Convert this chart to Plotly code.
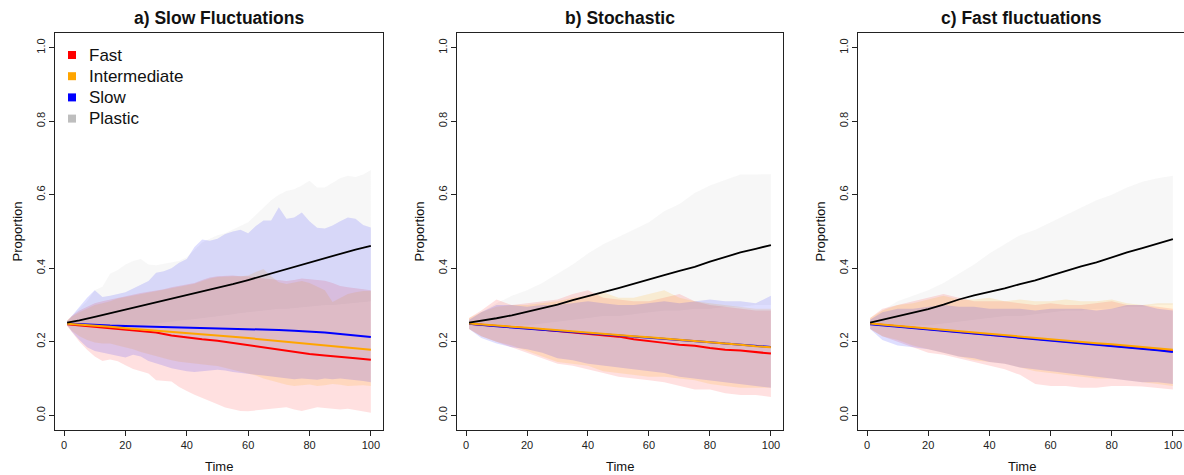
import plotly.graph_objects as go

W, H = 1184, 475

TIME = [1, 5, 10, 15, 20, 25, 30, 35, 40, 45, 50, 55, 60, 65, 70, 75, 80, 85, 90, 95, 100]
A_BAND_TIME = [1, 2.5, 5, 7.5, 10, 12.5, 15, 17.5, 20, 22.5, 25, 27.5, 30, 32.5, 35, 37.5, 40, 42.5, 45, 47.5,
               50, 52.5, 55, 57.5, 60, 62.5, 65, 67.5, 70, 72.5, 75, 77.5, 80, 82.5, 85, 87.5, 90, 92.5, 95, 97.5, 100]
SERIES = ["Fast", "Intermediate", "Slow", "Plastic"]
PANEL_TITLES = ["a) Slow Fluctuations", "b) Stochastic", "c) Fast fluctuations"]
X_TICKS = [0, 20, 40, 60, 80, 100]
Y_TICKS = [0.0, 0.2, 0.4, 0.6, 0.8, 1.0]
Y_TICK_TEXT = ["0.0", "0.2", "0.4", "0.6", "0.8", "1.0"]

# ---------------- Panel a) Slow fluctuations (means on TIME, bands on A_BAND_TIME) ----------------
A_FAST_MEAN = [0.248, 0.245, 0.241, 0.238, 0.234, 0.229, 0.225, 0.217, 0.211, 0.207, 0.203, 0.197, 0.191, 0.184, 0.178, 0.172, 0.167, 0.163, 0.160, 0.155, 0.151]
A_FAST_LO = [0.243, 0.225, 0.200, 0.178, 0.160, 0.148, 0.152, 0.147, 0.136, 0.126, 0.120, 0.114, 0.095, 0.094, 0.092, 0.077, 0.066, 0.056, 0.046, 0.038,
             0.030, 0.021, 0.016, 0.012, 0.011, 0.013, 0.016, 0.018, 0.020, 0.022, 0.016, 0.012, 0.016, 0.022, 0.020, 0.017, 0.016, 0.018, 0.015, 0.010, 0.007]
A_FAST_HI = [0.258, 0.270, 0.285, 0.295, 0.305, 0.310, 0.315, 0.320, 0.325, 0.330, 0.333, 0.336, 0.339, 0.343, 0.348, 0.352, 0.355, 0.360, 0.368, 0.375,
             0.378, 0.380, 0.380, 0.378, 0.378, 0.375, 0.372, 0.370, 0.368, 0.365, 0.368, 0.372, 0.370, 0.368, 0.366, 0.360, 0.352, 0.348, 0.345, 0.342, 0.340]
A_INT_MEAN = [0.249, 0.247, 0.244, 0.241, 0.237, 0.234, 0.231, 0.228, 0.225, 0.221, 0.217, 0.214, 0.210, 0.206, 0.202, 0.198, 0.194, 0.190, 0.187, 0.182, 0.178]
A_INT_LO = [0.245, 0.230, 0.215, 0.205, 0.198, 0.195, 0.195, 0.190, 0.186, 0.180, 0.172, 0.165, 0.160, 0.155, 0.150, 0.146, 0.143, 0.140, 0.138, 0.136,
            0.134, 0.130, 0.125, 0.120, 0.113, 0.108, 0.100, 0.095, 0.088, 0.083, 0.080, 0.082, 0.084, 0.080, 0.082, 0.085, 0.083, 0.080, 0.080, 0.082, 0.080]
A_INT_HI = [0.258, 0.268, 0.280, 0.290, 0.300, 0.305, 0.310, 0.318, 0.322, 0.328, 0.330, 0.334, 0.338, 0.342, 0.346, 0.350, 0.355, 0.358, 0.365, 0.372,
            0.376, 0.378, 0.378, 0.378, 0.380, 0.390, 0.398, 0.378, 0.362, 0.357, 0.360, 0.365, 0.360, 0.350, 0.340, 0.308, 0.320, 0.330, 0.335, 0.338, 0.338]
A_SLOW_MEAN = [0.250, 0.248, 0.246, 0.244, 0.243, 0.242, 0.241, 0.240, 0.240, 0.239, 0.238, 0.237, 0.235, 0.234, 0.232, 0.230, 0.228, 0.225, 0.221, 0.216, 0.213]
A_SLOW_LO = [0.245, 0.228, 0.205, 0.185, 0.175, 0.170, 0.166, 0.162, 0.157, 0.165, 0.160, 0.148, 0.142, 0.135, 0.128, 0.124, 0.120, 0.118, 0.120, 0.122,
             0.124, 0.122, 0.118, 0.115, 0.112, 0.110, 0.108, 0.105, 0.103, 0.100, 0.098, 0.100, 0.099, 0.097, 0.100, 0.098, 0.100, 0.097, 0.095, 0.093, 0.090]
A_SLOW_HI = [0.255, 0.270, 0.298, 0.320, 0.340, 0.322, 0.325, 0.330, 0.335, 0.345, 0.355, 0.365, 0.388, 0.392, 0.400, 0.415, 0.425, 0.458, 0.478, 0.475,
             0.480, 0.493, 0.500, 0.505, 0.495, 0.515, 0.530, 0.530, 0.566, 0.535, 0.538, 0.552, 0.528, 0.510, 0.508, 0.516, 0.528, 0.538, 0.535, 0.518, 0.511]
A_PLAS_MEAN = [0.252, 0.258, 0.268, 0.278, 0.287, 0.296, 0.306, 0.316, 0.327, 0.337, 0.347, 0.357, 0.368, 0.380, 0.392, 0.404, 0.415, 0.427, 0.438, 0.451, 0.461]
A_PLAS_LO = [0.245, 0.243, 0.240, 0.240, 0.240, 0.240, 0.240, 0.243, 0.245, 0.245, 0.245, 0.248, 0.250, 0.252, 0.255, 0.258, 0.260, 0.262, 0.265, 0.268,
             0.270, 0.272, 0.275, 0.278, 0.280, 0.282, 0.285, 0.288, 0.290, 0.290, 0.290, 0.292, 0.295, 0.298, 0.300, 0.300, 0.300, 0.302, 0.305, 0.308, 0.310]
A_PLAS_HI = [0.258, 0.270, 0.290, 0.310, 0.340, 0.350, 0.385, 0.395, 0.410, 0.420, 0.425, 0.410, 0.408, 0.412, 0.418, 0.420, 0.430, 0.450, 0.470, 0.480,
             0.490, 0.495, 0.505, 0.515, 0.525, 0.545, 0.565, 0.585, 0.600, 0.610, 0.615, 0.625, 0.638, 0.620, 0.620, 0.632, 0.645, 0.652, 0.648, 0.655, 0.667]

# ---------------- Panel b) Stochastic ----------------
B_FAST_MEAN = [0.249, 0.246, 0.243, 0.240, 0.237, 0.233, 0.229, 0.225, 0.222, 0.219, 0.214, 0.207, 0.201, 0.197, 0.192, 0.189, 0.183, 0.178, 0.176, 0.172, 0.168]
B_FAST_LO = [0.235, 0.215, 0.200, 0.185, 0.170, 0.155, 0.140, 0.135, 0.125, 0.115, 0.105, 0.100, 0.095, 0.090, 0.080, 0.070, 0.070, 0.060, 0.055, 0.055, 0.050]
B_FAST_HI = [0.265, 0.285, 0.315, 0.300, 0.305, 0.310, 0.315, 0.330, 0.340, 0.320, 0.315, 0.310, 0.310, 0.320, 0.330, 0.310, 0.300, 0.295, 0.290, 0.285, 0.285]
B_INT_MEAN = [0.250, 0.247, 0.244, 0.241, 0.238, 0.235, 0.232, 0.228, 0.225, 0.222, 0.219, 0.215, 0.212, 0.209, 0.205, 0.202, 0.198, 0.195, 0.192, 0.188, 0.185]
B_INT_LO = [0.235, 0.215, 0.200, 0.190, 0.175, 0.160, 0.145, 0.140, 0.135, 0.120, 0.115, 0.110, 0.105, 0.105, 0.100, 0.095, 0.085, 0.080, 0.075, 0.075, 0.075]
B_INT_HI = [0.265, 0.280, 0.295, 0.300, 0.300, 0.305, 0.310, 0.320, 0.325, 0.335, 0.320, 0.320, 0.330, 0.340, 0.320, 0.310, 0.305, 0.300, 0.295, 0.290, 0.290]
B_SLOW_MEAN = [0.249, 0.245, 0.242, 0.239, 0.236, 0.233, 0.230, 0.227, 0.224, 0.221, 0.218, 0.215, 0.212, 0.209, 0.206, 0.202, 0.199, 0.195, 0.192, 0.189, 0.186]
B_SLOW_LO = [0.235, 0.210, 0.195, 0.185, 0.180, 0.170, 0.155, 0.150, 0.140, 0.135, 0.130, 0.125, 0.120, 0.115, 0.105, 0.100, 0.095, 0.090, 0.085, 0.080, 0.075]
B_SLOW_HI = [0.260, 0.280, 0.300, 0.300, 0.295, 0.300, 0.300, 0.305, 0.310, 0.305, 0.300, 0.300, 0.305, 0.310, 0.305, 0.310, 0.315, 0.310, 0.310, 0.305, 0.325]
B_PLAS_MEAN = [0.252, 0.257, 0.264, 0.272, 0.281, 0.291, 0.301, 0.313, 0.325, 0.335, 0.346, 0.357, 0.368, 0.381, 0.393, 0.404, 0.418, 0.431, 0.443, 0.453, 0.463]
B_PLAS_LO = [0.245, 0.240, 0.240, 0.245, 0.245, 0.250, 0.255, 0.260, 0.265, 0.270, 0.270, 0.275, 0.280, 0.285, 0.285, 0.290, 0.290, 0.295, 0.295, 0.300, 0.300]
B_PLAS_HI = [0.258, 0.280, 0.305, 0.325, 0.340, 0.360, 0.385, 0.410, 0.440, 0.465, 0.485, 0.505, 0.525, 0.555, 0.575, 0.605, 0.625, 0.640, 0.655, 0.655, 0.656]

# ---------------- Panel c) Fast fluctuations ----------------
C_FAST_MEAN = [0.249, 0.246, 0.242, 0.239, 0.235, 0.232, 0.228, 0.224, 0.221, 0.217, 0.213, 0.209, 0.205, 0.201, 0.198, 0.194, 0.190, 0.186, 0.182, 0.178, 0.174]
C_FAST_LO = [0.235, 0.215, 0.200, 0.185, 0.170, 0.165, 0.155, 0.145, 0.135, 0.125, 0.110, 0.085, 0.080, 0.080, 0.075, 0.075, 0.080, 0.080, 0.078, 0.075, 0.070]
C_FAST_HI = [0.265, 0.290, 0.300, 0.310, 0.320, 0.330, 0.320, 0.310, 0.310, 0.310, 0.305, 0.300, 0.305, 0.300, 0.300, 0.305, 0.310, 0.300, 0.300, 0.295, 0.290]
C_INT_MEAN = [0.250, 0.247, 0.243, 0.240, 0.236, 0.233, 0.229, 0.225, 0.222, 0.218, 0.214, 0.211, 0.207, 0.203, 0.200, 0.196, 0.193, 0.189, 0.185, 0.182, 0.178]
C_INT_LO = [0.235, 0.215, 0.205, 0.190, 0.180, 0.170, 0.160, 0.150, 0.145, 0.140, 0.130, 0.120, 0.115, 0.110, 0.105, 0.100, 0.100, 0.095, 0.090, 0.085, 0.080]
C_INT_HI = [0.265, 0.285, 0.300, 0.305, 0.315, 0.325, 0.315, 0.315, 0.320, 0.310, 0.315, 0.310, 0.310, 0.315, 0.310, 0.310, 0.315, 0.305, 0.300, 0.305, 0.305]
C_SLOW_MEAN = [0.248, 0.245, 0.241, 0.238, 0.234, 0.231, 0.227, 0.223, 0.220, 0.216, 0.212, 0.208, 0.204, 0.200, 0.197, 0.193, 0.189, 0.185, 0.181, 0.177, 0.172]
C_SLOW_LO = [0.235, 0.205, 0.190, 0.185, 0.180, 0.170, 0.160, 0.155, 0.145, 0.140, 0.130, 0.125, 0.120, 0.115, 0.110, 0.105, 0.100, 0.095, 0.090, 0.090, 0.085]
C_SLOW_HI = [0.260, 0.280, 0.290, 0.290, 0.295, 0.300, 0.295, 0.295, 0.290, 0.290, 0.290, 0.285, 0.290, 0.290, 0.290, 0.285, 0.290, 0.300, 0.300, 0.290, 0.285]
C_PLAS_MEAN = [0.252, 0.260, 0.268, 0.278, 0.289, 0.301, 0.315, 0.326, 0.335, 0.345, 0.357, 0.367, 0.380, 0.393, 0.405, 0.416, 0.430, 0.443, 0.455, 0.468, 0.479]
C_PLAS_LO = [0.245, 0.240, 0.240, 0.245, 0.245, 0.250, 0.255, 0.260, 0.265, 0.270, 0.270, 0.275, 0.280, 0.285, 0.285, 0.290, 0.290, 0.295, 0.295, 0.300, 0.300]
C_PLAS_HI = [0.260, 0.285, 0.310, 0.325, 0.340, 0.360, 0.385, 0.410, 0.440, 0.465, 0.490, 0.505, 0.525, 0.545, 0.565, 0.585, 0.600, 0.620, 0.635, 0.645, 0.652]

PANELS = [
    (A_BAND_TIME, [(A_FAST_MEAN, A_FAST_LO, A_FAST_HI), (A_INT_MEAN, A_INT_LO, A_INT_HI),
                   (A_SLOW_MEAN, A_SLOW_LO, A_SLOW_HI), (A_PLAS_MEAN, A_PLAS_LO, A_PLAS_HI)]),
    (TIME, [(B_FAST_MEAN, B_FAST_LO, B_FAST_HI), (B_INT_MEAN, B_INT_LO, B_INT_HI),
            (B_SLOW_MEAN, B_SLOW_LO, B_SLOW_HI), (B_PLAS_MEAN, B_PLAS_LO, B_PLAS_HI)]),
    (TIME, [(C_FAST_MEAN, C_FAST_LO, C_FAST_HI), (C_INT_MEAN, C_INT_LO, C_INT_HI),
            (C_SLOW_MEAN, C_SLOW_LO, C_SLOW_HI), (C_PLAS_MEAN, C_PLAS_LO, C_PLAS_HI)]),
]

LINE_COLORS = ["#FF0000", "#FFA500", "#0000FF", "#000000"]
LEGEND_COLORS = ["#FF0000", "#FFA500", "#0000FF", "#BEBEBE"]
FILL_COLORS = ["rgba(255,0,0,0.12)", "rgba(255,165,0,0.15)", "rgba(0,0,255,0.13)", "rgba(190,190,190,0.13)"]

# ---------------- layout geometry (page pixels) ----------------
BOX_LEFT = [55, 457, 858]
BOX_RIGHT = [383, 783, 1185]
X_RANGES = [[-2.96, 103.96], [-2.96, 103.96], [-2.96, 103.63]]
BOX_TOP, BOX_BOTTOM = 33, 430
FONT = "Liberation Sans, Arial, Helvetica, sans-serif"


def px(x):
    return x / W


def py(y):
    return 1 - y / H


fig = go.Figure()

for p, (band_time, series) in enumerate(PANELS):
    xa = "x" if p == 0 else f"x{p + 1}"
    ya = "y" if p == 0 else f"y{p + 1}"
    for s in [3, 0, 1, 2]:
        mean, lo, hi = series[s]
        fig.add_trace(go.Scatter(
            x=band_time + band_time[::-1], y=hi + lo[::-1], xaxis=xa, yaxis=ya,
            mode="lines", fill="toself", fillcolor=FILL_COLORS[s],
            line=dict(width=0, color="rgba(0,0,0,0)"), hoverinfo="skip",
            showlegend=False, name=SERIES[s] + " range"))
    for s in [0, 2, 1, 3]:
        mean, lo, hi = series[s]
        fig.add_trace(go.Scatter(
            x=TIME, y=mean, xaxis=xa, yaxis=ya, mode="lines",
            line=dict(color=LINE_COLORS[s], width=2 if s < 3 else 1.8),
            showlegend=False, name=SERIES[s]))

axis_common = dict(showgrid=False, zeroline=False, showline=True, mirror=True,
                   linecolor="#222", linewidth=1, ticks="outside", ticklen=5,
                   tickcolor="#222", tickfont=dict(family=FONT, size=11, color="#222"))

layout = dict(
    width=W, height=H, autosize=False,
    margin=dict(l=0, r=0, t=0, b=0),
    paper_bgcolor="white", plot_bgcolor="white",
    showlegend=False, annotations=[], shapes=[],
)

for p in range(3):
    xk = "xaxis" if p == 0 else f"xaxis{p + 1}"
    yk = "yaxis" if p == 0 else f"yaxis{p + 1}"
    xa = "x" if p == 0 else f"x{p + 1}"
    ya = "y" if p == 0 else f"y{p + 1}"
    layout[xk] = dict(axis_common, domain=[px(BOX_LEFT[p]), min(1.0, px(BOX_RIGHT[p]))],
                      range=X_RANGES[p], tickvals=X_TICKS, anchor=ya,
                      ticklabeloverflow="allow")
    layout[yk] = dict(axis_common, domain=[py(BOX_BOTTOM), py(BOX_TOP)],
                      range=[-0.04, 1.04], tickvals=Y_TICKS, ticktext=Y_TICK_TEXT,
                      tickangle=-90, anchor=xa, mirror=(p < 2))
    cx = (BOX_LEFT[p] + BOX_RIGHT[p]) / 2
    layout["annotations"].append(dict(
        text=f"<b>{PANEL_TITLES[p]}</b>", x=px(cx), y=py(18), xref="paper", yref="paper",
        showarrow=False, xanchor="center", yanchor="middle",
        font=dict(family=FONT, size=17.5, color="#111")))
    layout["annotations"].append(dict(
        text="Time", x=px(cx), y=py(466), xref="paper", yref="paper",
        showarrow=False, xanchor="center", yanchor="middle",
        font=dict(family=FONT, size=13, color="#111")))
    layout["annotations"].append(dict(
        text="Proportion", x=px(BOX_LEFT[p] - 38), y=py((BOX_TOP + BOX_BOTTOM) / 2),
        xref="paper", yref="paper", showarrow=False, textangle=-90,
        xanchor="center", yanchor="middle",
        font=dict(family=FONT, size=13, color="#111")))

# legend (panel a, top-left)
for i, name in enumerate(SERIES):
    yc = 55 + 21.2 * i
    layout["shapes"].append(dict(
        type="rect", xref="paper", yref="paper",
        x0=px(68), x1=px(76), y0=py(yc + 4), y1=py(yc - 4),
        fillcolor=LEGEND_COLORS[i], line=dict(width=0)))
    layout["annotations"].append(dict(
        text=name, x=px(87), y=py(yc), xref="paper", yref="paper",
        showarrow=False, xanchor="left", yanchor="middle",
        font=dict(family=FONT, size=17, color="#111")))

fig.update_layout(**layout)
# remove the default 8px page margin so the 1184x475 figure fills the window exactly
fig.write_html("out.html", config={"displayModeBar": False, "staticPlot": True},
               post_script="document.body.style.margin='0px';document.body.style.overflow='hidden';")
